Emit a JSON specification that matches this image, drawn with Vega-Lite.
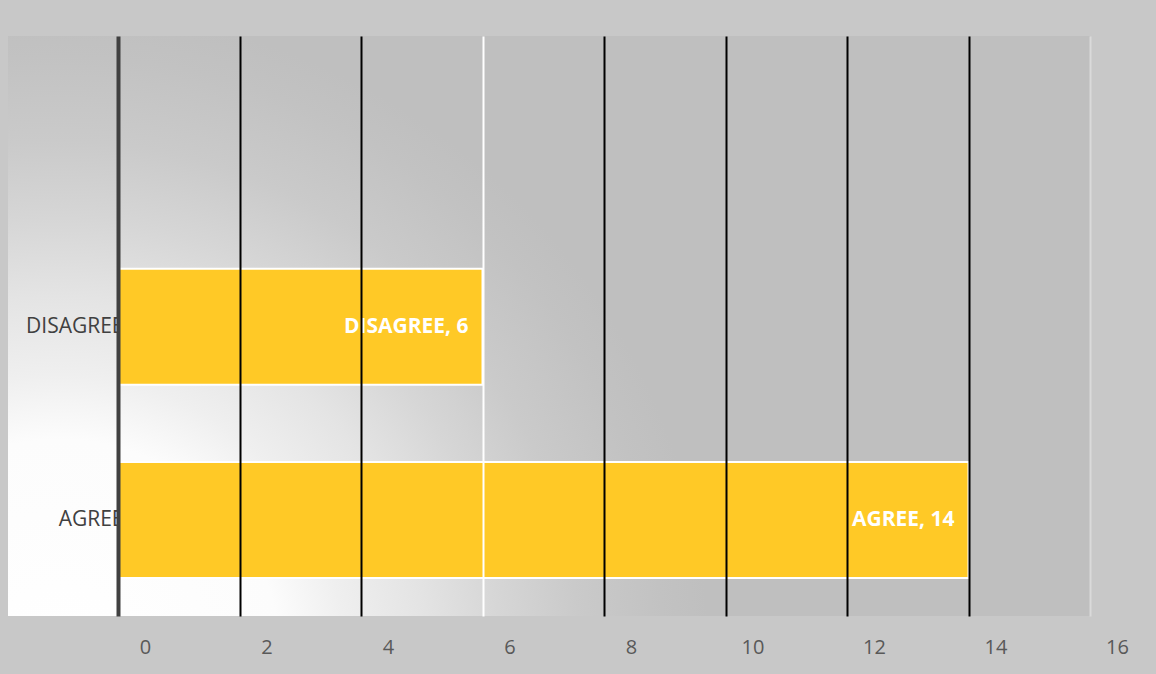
{
  "$schema": "https://vega.github.io/schema/vega-lite/v6.json",
  "width": 1082,
  "height": 580,
  "autosize": {"type": "none"},
  "padding": {"left": 8, "top": 36, "right": 66, "bottom": 58},
  "background": "#c8c8c8",
  "config": {
    "font": "Open Sans",
    "view": {
      "stroke": null,
      "fill": {
        "gradient": "radial",
        "x1": 0.048, "y1": 0.809, "r1": 0,
        "x2": 0.048, "y2": 0.809, "r2": 0.6,
        "stops": [
          {"offset": 0, "color": "#ffffff"},
          {"offset": 0.34, "color": "#fcfcfc"},
          {"offset": 0.44, "color": "#efefef"},
          {"offset": 0.56, "color": "#e4e4e4"},
          {"offset": 0.68, "color": "#d6d6d6"},
          {"offset": 0.8, "color": "#cacaca"},
          {"offset": 0.93, "color": "#c2c2c2"},
          {"offset": 1, "color": "#bfbfbf"}
        ]
      }
    }
  },
  "data": {
    "values": [
      {"response": "DISAGREE", "count": 6, "label": "DISAGREE, 6"},
      {"response": "AGREE", "count": 14, "label": "AGREE, 14"}
    ]
  },
  "encoding": {
    "y": {
      "field": "response",
      "type": "nominal",
      "sort": ["DISAGREE", "AGREE"],
      "scale": {"paddingInner": 0.4, "paddingOuter": 0.7, "align": 0.86},
      "axis": {
        "title": null,
        "domain": false,
        "ticks": false,
        "labelColor": "#404040",
        "labelFontSize": 21,
        "labelPadding": -115,
        "labelFont": "Open Sans",
        "zindex": 0
      }
    }
  },
  "layer": [
    {
      "mark": {"type": "bar", "color": "#FFC926", "stroke": "#ffffff", "strokeWidth": 2},
      "encoding": {
        "x": {
          "field": "count",
          "type": "quantitative",
          "scale": {"domain": [0, 16], "nice": false, "range": [110, 1082]},
          "axis": {
            "title": null,
            "values": [0, 2, 4, 6, 8, 10, 12, 14, 16],
            "format": "d",
            "domain": false,
            "ticks": false,
            "grid": true,
            "gridColor": {
              "condition": [
                {"test": "datum.value == 16", "value": "#dadada"},
                {"test": "datum.value == 6", "value": "#ffffff"},
                {"test": "datum.value == 0", "value": "#404040"}
              ],
              "value": "#000000"
            },
            "gridWidth": {
              "condition": {"test": "datum.value == 0", "value": 4},
              "value": 2
            },
            "gridOpacity": 1,
            "labelColor": "#595959",
            "labelFontSize": 20,
            "labelFont": "Open Sans",
            "labelOffset": 27,
            "labelFlush": false,
            "labelPadding": 21,
            "zindex": 1
          }
        }
      }
    },
    {
      "mark": {"type": "text", "align": "right", "dx": -14, "color": "#ffffff", "fontWeight": "bold", "fontSize": 21, "font": "Open Sans"},
      "encoding": {
        "x": {"field": "count", "type": "quantitative"},
        "text": {"field": "label", "type": "nominal"}
      }
    }
  ]
}
